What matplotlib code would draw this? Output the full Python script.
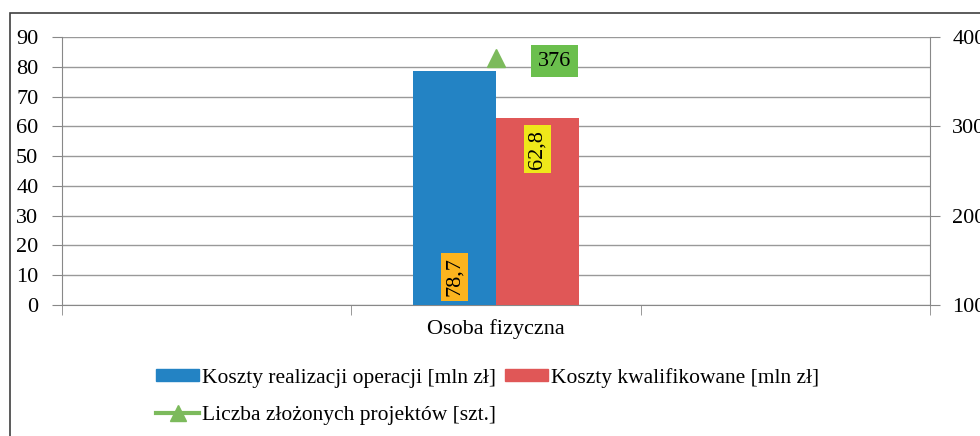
import matplotlib.pyplot as plt
import numpy as np
from matplotlib.lines import Line2D
from matplotlib.patches import Patch, Rectangle

plt.rcParams['font.family'] = ['Liberation Serif', 'DejaVu Serif']

# dane
kategorie = ['', 'Osoba fizyczna', '']
koszty_realizacji = [np.nan, 78.7, np.nan]
koszty_kwalifikowane = [np.nan, 62.8, np.nan]
liczba_projektow = [np.nan, 376, np.nan]
etykiety = ['Koszty realizacji operacji [mln zł]',
            'Koszty kwalifikowane [mln zł]',
            'Liczba złożonych projektów [szt.]']

kol_nieb = '#2383C4'
kol_czerw = '#E05757'
kol_ziel = '#7CBA5C'

fig = plt.figure(figsize=(9.8, 4.36), dpi=100)
# ramka wykresu
fig.patches.append(Rectangle((10 / 980, -0.1), 1.2, 1 - 13 / 436 + 0.1,
                             transform=fig.transFigure, fill=False,
                             edgecolor='#404040', linewidth=1.2))

ax = fig.add_axes([62 / 980, 1 - 305 / 436, 868 / 980, 268 / 436])
x = np.arange(len(kategorie))
w = 0.287
ax.bar(x - w / 2, koszty_realizacji, w, color=kol_nieb, zorder=3)
ax.bar(x + w / 2, koszty_kwalifikowane, w, color=kol_czerw, zorder=3)

ax.set_ylim(0, 90)
ax.set_yticks(range(0, 91, 10))
ax.set_xlim(-0.5, len(kategorie) - 0.5)
ax.set_xticks(x)
ax.set_xticklabels(kategorie, fontsize=16)
ax.set_xticks(np.arange(-0.5, len(kategorie), 1), minor=True)
ax.tick_params(axis='x', which='major', length=0, pad=10)
ax.tick_params(axis='x', which='minor', length=7, color='#888888')
ax.tick_params(axis='y', length=7, color='#888888', labelsize=16, pad=10)
ax.grid(axis='y', color='#999999', linewidth=1, zorder=0)
for s in ['top', 'right']:
    ax.spines[s].set_visible(False)
for s in ['left', 'bottom']:
    ax.spines[s].set_color('#888888')

ax2 = ax.twinx()
ax2.set_ylim(100, 400)
ax2.set_yticks([100, 200, 300, 400])
ax2.tick_params(axis='y', length=7, color='#888888', labelsize=16, pad=9)
for s in ['top', 'left', 'bottom']:
    ax2.spines[s].set_visible(False)
ax2.spines['right'].set_color('#888888')
ax2.plot(x, liczba_projektow, marker='^', color=kol_ziel, markersize=13,
         linewidth=2.5, zorder=4)

# etykiety danych
i = 1
ax.text(x[i] - w / 2, 3.0, f'{koszty_realizacji[i]:.1f}'.replace('.', ','),
        rotation=90, ha='center', va='bottom', fontsize=16, zorder=5,
        bbox=dict(boxstyle='square,pad=0.2', fc='#FBB41E', ec='none'))
ax.text(x[i] + w / 2, koszty_kwalifikowane[i] - 4.0,
        f'{koszty_kwalifikowane[i]:.1f}'.replace('.', ','),
        rotation=90, ha='center', va='top', fontsize=16, zorder=5,
        bbox=dict(boxstyle='square,pad=0.2', fc='#EFE81A', ec='none'))
ax2.annotate(f'{liczba_projektow[i]:.0f}', (x[i], liczba_projektow[i]),
             xytext=(42, -2), textcoords='offset points', ha='center',
             va='center', fontsize=16, zorder=5,
             bbox=dict(boxstyle='square,pad=0.3', fc='#6BBF4D', ec='none'))

uchwyty = [Patch(color=kol_nieb),
           Line2D([], [], color=kol_ziel, marker='^', markersize=11, linewidth=3),
           Patch(color=kol_czerw)]
fig.legend(uchwyty, [etykiety[0], etykiety[2], etykiety[1]], ncol=2,
           loc='upper left', bbox_to_anchor=(156 / 980, 1 - 368 / 436),
           frameon=False, fontsize=15.5, handlelength=2.0, handletextpad=0.15,
           columnspacing=0.4, labelspacing=0.85, borderaxespad=0,
           borderpad=0, handleheight=0.5)

fig.savefig('out.png', dpi=100)
